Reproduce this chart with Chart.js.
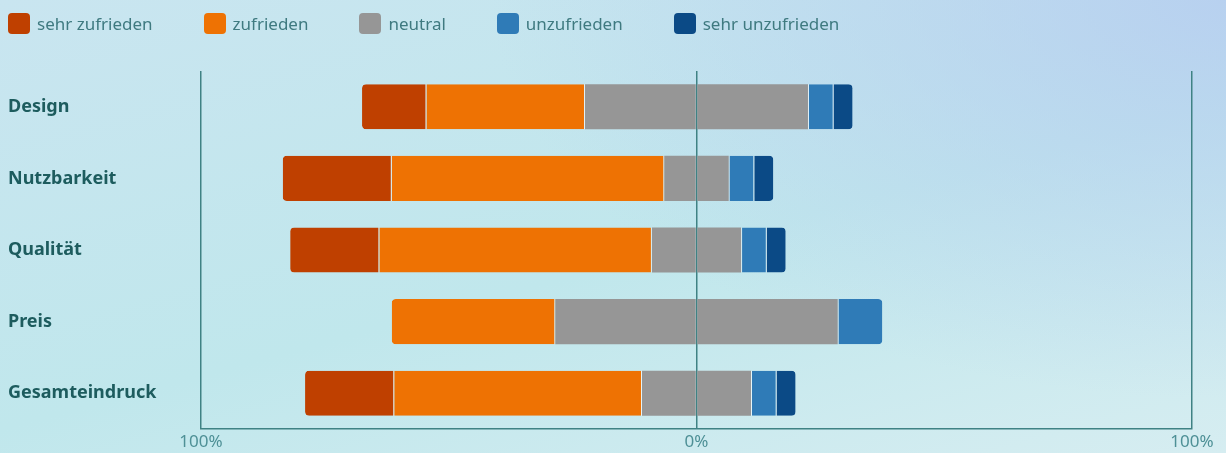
<!DOCTYPE html>
<html>
<head>
<meta charset="utf-8">
<script src="https://cdn.jsdelivr.net/npm/chart.js@4.4.1/dist/chart.umd.min.js"></script>
<style>
  html, body { margin: 0; padding: 0; }
  body {
    width: 1226px; height: 453px; overflow: hidden; position: relative;
    font-family: "Noto Sans", sans-serif;
    background:
      radial-gradient(ellipse 75% 110% at 100% 0%, rgba(182,205,240,0.85), rgba(182,205,240,0) 80%),
      linear-gradient(165deg, #c9e5f0 0%, #c0e7ec 55%, #d6edf1 100%);
  }
  #wrap { position: absolute; left: 0; top: 0; width: 1226px; height: 453px; }
  #legend { position: absolute; left: 8px; top: 12px; display: flex; margin: 0; padding: 0; list-style: none; }
  #legend li { display: flex; align-items: center; height: 22px; margin-right: 51px; font-size: 17px; color: #3f7a80; }
  #legend .box { width: 22px; height: 21px; border-radius: 4px; margin-right: 7px; }
</style>
</head>
<body>
<div id="wrap"><canvas id="likertChart"></canvas></div>
<ul id="legend"></ul>
<script>
const categories = ["Design", "Nutzbarkeit", "Qualität", "Preis", "Gesamteindruck"];
const sehrZufrieden   = [13, 22, 18, 0, 18];
const zufrieden       = [32, 55, 55, 33, 50];
const neutral         = [45, 13, 18, 57, 22];
const unzufrieden     = [5, 5, 5, 9, 5];
const sehrUnzufrieden = [4, 4, 4, 0, 4];
const xTicks = [-100, 0, 100];

const colors = {
    sehrZufrieden: "#bf4000",
    zufrieden: "#ee7203",
    neutral: "#969696",
    unzufrieden: "#2f7bb7",
    sehrUnzufrieden: "#0b4a86"
};
const teal = "#3f8284";

// outer end of each bar gets rounded corners
const leftSide = [neutral, zufrieden, sehrZufrieden];
const rightSide = [neutral, unzufrieden, sehrUnzufrieden];
function radius(ctx) {
    const i = ctx.dataIndex, ds = ctx.datasetIndex;
    const side = ds < 3 ? leftSide : rightSide;
    let outer = 0;
    side.forEach((arr, k) => { if (arr[i] > 0) outer = k; });
    if (ds % 3 !== outer) return 0;
    return ds < 3
        ? {topLeft: 4, bottomLeft: 4, topRight: 0, bottomRight: 0}
        : {topLeft: 0, bottomLeft: 0, topRight: 4, bottomRight: 4};
}

function seg(label, values, color, sign, seamSide) {
    const bw = {top: 0, bottom: 0, left: 0, right: 0};
    if (seamSide) bw[seamSide] = 1;
    return {
        label: label,
        data: values.map(v => sign * v),
        backgroundColor: color,
        borderColor: "rgba(255,255,255,0.55)",
        borderWidth: bw,
        borderSkipped: false,
        borderRadius: radius,
        barPercentage: 0.9,
        categoryPercentage: 0.7
    };
}

const htmlLegend = {
    id: "htmlLegend",
    afterUpdate(chart) {
        const ul = document.getElementById("legend");
        ul.innerHTML = "";
        const order = [2, 1, 0, 4, 5];
        const items = chart.options.plugins.legend.labels.generateLabels(chart);
        order.forEach(idx => {
            const item = items.find(it => it.datasetIndex === idx);
            const li = document.createElement("li");
            const box = document.createElement("span");
            box.className = "box";
            box.style.background = item.fillStyle;
            const txt = document.createElement("span");
            txt.textContent = item.text;
            li.appendChild(box);
            li.appendChild(txt);
            ul.appendChild(li);
        });
    }
};

Chart.defaults.font.family = "'Noto Sans', sans-serif";

const ctx = document.getElementById("likertChart").getContext("2d");
new Chart(ctx, {
    type: "bar",
    data: {
        labels: categories,
        datasets: [
            seg("neutral", neutral.map(v => v / 2), colors.neutral, -1, null),
            seg("zufrieden", zufrieden, colors.zufrieden, -1, "right"),
            seg("sehr zufrieden", sehrZufrieden, colors.sehrZufrieden, -1, "right"),
            seg("neutral", neutral.map(v => v / 2), colors.neutral, 1, null),
            seg("unzufrieden", unzufrieden, colors.unzufrieden, 1, "left"),
            seg("sehr unzufrieden", sehrUnzufrieden, colors.sehrUnzufrieden, 1, "left")
        ]
    },
    options: {
        indexAxis: "y",
        responsive: true,
        maintainAspectRatio: false,
        animation: false,
        layout: {padding: {left: 8, right: 34, top: 71, bottom: 0}},
        plugins: {
            legend: {display: false},
            tooltip: {enabled: false}
        },
        scales: {
            x: {
                stacked: true,
                min: -100,
                max: 100,
                z: 1,
                afterBuildTicks: scale => { scale.ticks = xTicks.map(v => ({value: v})); },
                afterFit: scale => { scale.height = 24; },
                ticks: {
                    color: "#4e9096",
                    font: {size: 17},
                    padding: 3,
                    callback: v => Math.abs(v) + "%"
                },
                grid: {color: teal, lineWidth: 1.5, drawTicks: false},
                border: {display: true, color: teal, width: 1.5}
            },
            y: {
                stacked: true,
                afterFit: scale => { scale.width = 193; },
                ticks: {
                    crossAlign: "far",
                    color: "#1d5c5e",
                    font: {size: 18, weight: "bold", lineHeight: 1.45}
                },
                grid: {display: false},
                border: {display: false}
            }
        }
    },
    plugins: [htmlLegend]
});
</script>
</body>
</html>
